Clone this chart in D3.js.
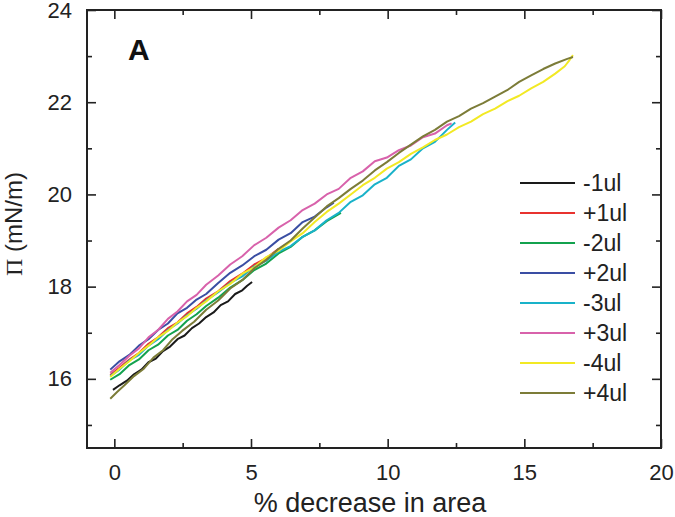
<!DOCTYPE html>
<html>
<head>
<meta charset="utf-8">
<script src="https://cdn.jsdelivr.net/npm/d3@7"></script>
<style>
  body { margin: 0; background: #fff; }
  svg { display: block; font-family: "Liberation Sans", Arial, sans-serif; }
</style>
</head>
<body>
<svg id="chart" width="675" height="517"></svg>
<script>
(function() {
    'use strict';

    // series names, in legend order
    var seriesNames = ["-1ul", "+1ul", "-2ul", "+2ul", "-3ul", "+3ul", "-4ul", "+4ul"];
    var seriesColors = ["#1a1a1a", "#e8332f", "#13a24e", "#3a4ea3", "#19b2c9", "#d862ab", "#f2e924", "#7c7c38"];

    // [% decrease in area, Pi (mN/m)]
    var minus1 = [[-0.05,15.76],[0.19,15.86],[0.46,15.96],[0.72,16.1],[0.99,16.2],[1.25,16.36],[1.52,16.44],[1.78,16.6],[2.04,16.7],[2.31,16.86],[2.57,16.94],[2.84,17.1],[3.1,17.2],[3.36,17.34],[3.63,17.44],[3.89,17.6],[4.16,17.68],[4.42,17.84],[4.68,17.92],[4.86,18.02],[5.04,18.1]];
    var plus1 = [[-0.15,16.08],[0.19,16.24],[0.55,16.42],[0.9,16.56],[1.25,16.76],[1.6,16.9],[1.96,17.1],[2.31,17.22],[2.66,17.42],[3.01,17.56],[3.36,17.74],[3.8,17.9],[4.24,18.12],[4.68,18.28],[5.12,18.48],[5.56,18.62],[6.01,18.82]];
    var minus2 = [[-0.15,15.98],[0.19,16.1],[0.55,16.3],[0.9,16.42],[1.25,16.62],[1.6,16.74],[1.96,16.94],[2.31,17.06],[2.66,17.26],[3.01,17.4],[3.36,17.58],[3.8,17.76],[4.24,17.98],[4.68,18.14],[5.12,18.36],[5.56,18.5],[6.01,18.72],[6.45,18.86],[6.89,19.08],[7.33,19.22],[7.77,19.42],[8.29,19.6]];
    var plus2 = [[-0.15,16.2],[0.19,16.38],[0.55,16.52],[0.9,16.72],[1.25,16.86],[1.6,17.06],[1.96,17.2],[2.31,17.42],[2.66,17.54],[3.01,17.72],[3.36,17.84],[3.8,18.08],[4.24,18.3],[4.68,18.46],[5.12,18.66],[5.56,18.8],[6.01,19.02],[6.45,19.16],[6.89,19.4],[7.33,19.52],[7.77,19.72],[8.03,19.82]];
    var minus3 = [[-0.15,16.06],[0.19,16.2],[0.55,16.4],[0.9,16.52],[1.25,16.72],[1.6,16.86],[1.96,17.06],[2.31,17.2],[2.66,17.38],[3.01,17.52],[3.36,17.7],[3.8,17.88],[4.24,18.08],[4.68,18.22],[5.12,18.44],[5.56,18.56],[6.01,18.76],[6.45,18.88],[6.89,19.08],[7.33,19.22],[7.77,19.44],[8.21,19.6],[8.65,19.84],[9.09,19.98],[9.53,20.22],[9.97,20.36],[10.41,20.62],[10.85,20.76],[11.29,21.0],[11.73,21.14],[12.17,21.4],[12.47,21.56]];
    var plus3 = [[-0.15,16.13],[0.19,16.3],[0.55,16.5],[0.9,16.66],[1.25,16.9],[1.6,17.06],[1.96,17.3],[2.31,17.46],[2.66,17.68],[3.01,17.82],[3.36,18.04],[3.8,18.24],[4.24,18.48],[4.68,18.66],[5.12,18.9],[5.56,19.06],[6.01,19.28],[6.45,19.44],[6.89,19.66],[7.33,19.8],[7.77,20.0],[8.21,20.12],[8.65,20.36],[9.09,20.5],[9.53,20.72],[9.97,20.8],[10.41,20.96],[10.85,21.06],[11.29,21.24],[11.73,21.32],[12.17,21.5],[12.34,21.54]];
    var minus4 = [[-0.15,16.04],[0.19,16.22],[0.55,16.38],[0.9,16.56],[1.25,16.72],[1.6,16.9],[1.96,17.04],[2.31,17.22],[2.66,17.36],[3.01,17.54],[3.36,17.68],[3.8,17.9],[4.24,18.06],[4.68,18.28],[5.12,18.42],[5.56,18.64],[6.01,18.78],[6.45,18.98],[6.89,19.16],[7.33,19.4],[7.77,19.62],[8.21,19.8],[8.65,20.0],[9.09,20.2],[9.53,20.36],[9.97,20.56],[10.41,20.7],[10.85,20.88],[11.29,21.02],[11.73,21.18],[12.17,21.3],[12.61,21.46],[13.05,21.58],[13.49,21.74],[13.93,21.86],[14.37,22.02],[14.81,22.14],[15.25,22.3],[15.69,22.44],[16.13,22.62],[16.48,22.78],[16.66,22.92],[16.78,23.02]];
    var plus4 = [[-0.15,15.57],[0.11,15.72],[0.37,15.86],[0.72,16.06],[1.08,16.22],[1.43,16.46],[1.78,16.62],[2.13,16.86],[2.48,17.04],[2.92,17.24],[3.36,17.5],[3.8,17.7],[4.24,17.96],[4.68,18.14],[5.12,18.4],[5.56,18.58],[6.01,18.82],[6.45,19.0],[6.89,19.26],[7.33,19.5],[7.77,19.74],[8.21,19.92],[8.65,20.12],[9.09,20.3],[9.53,20.52],[9.97,20.7],[10.41,20.9],[10.85,21.08],[11.29,21.26],[11.73,21.4],[12.17,21.58],[12.61,21.7],[13.05,21.86],[13.49,21.98],[13.93,22.12],[14.37,22.26],[14.81,22.44],[15.25,22.58],[15.69,22.72],[16.13,22.84],[16.57,22.94],[16.78,22.98]];

    var seriesValues = [minus1, plus1, minus2, plus2, minus3, plus3, minus4, plus4];

    var xMajorTicks = [0, 5, 10, 15, 20];
    var xMinorTicks = [2.5, 7.5, 12.5, 17.5];
    var yMajorTicks = [16, 18, 20, 22, 24];
    var yMinorTicks = [15, 17, 19, 21, 23];

    var margin = {top: 10, left: 87},
        width = 574,
        height = 438;

    var svg = d3.select("#chart");
    var g = svg.append("g")
        .attr("transform", "translate(" + margin.left + "," + margin.top + ")");

    var x = d3.scaleLinear().domain([-1, 20]).range([0, width]);
    var y = d3.scaleLinear().domain([14.5, 24]).range([height, 0]);

    var majorLen = 9, minorLen = 5;

    function styleAxis(sel) {
        sel.select(".domain").remove();
        sel.selectAll(".tick line").attr("stroke", "#222").attr("stroke-width", 1.6);
        sel.selectAll(".tick text")
            .attr("fill", "#222")
            .style("font-size", "22px");
    }

    // bottom + top
    g.append("g").attr("transform", "translate(0," + height + ")")
        .call(d3.axisBottom(x).tickValues(xMajorTicks).tickSize(-majorLen).tickPadding(16).tickFormat(d3.format("d")))
        .call(styleAxis);
    g.append("g").attr("transform", "translate(0," + height + ")")
        .call(d3.axisBottom(x).tickValues(xMinorTicks).tickSize(-minorLen).tickFormat(""))
        .call(styleAxis);
    g.append("g")
        .call(d3.axisTop(x).tickValues(xMajorTicks).tickSize(-majorLen).tickFormat(""))
        .call(styleAxis);
    g.append("g")
        .call(d3.axisTop(x).tickValues(xMinorTicks).tickSize(-minorLen).tickFormat(""))
        .call(styleAxis);

    // left + right
    g.append("g")
        .call(d3.axisLeft(y).tickValues(yMajorTicks).tickSize(-majorLen).tickPadding(15).tickFormat(d3.format("d")))
        .call(styleAxis);
    g.append("g")
        .call(d3.axisLeft(y).tickValues(yMinorTicks).tickSize(-minorLen).tickFormat(""))
        .call(styleAxis);
    g.append("g").attr("transform", "translate(" + width + ",0)")
        .call(d3.axisRight(y).tickValues(yMajorTicks).tickSize(-majorLen).tickFormat(""))
        .call(styleAxis);
    g.append("g").attr("transform", "translate(" + width + ",0)")
        .call(d3.axisRight(y).tickValues(yMinorTicks).tickSize(-minorLen).tickFormat(""))
        .call(styleAxis);

    // curves
    var line = d3.line()
        .x(function(d) { return x(d[0]); })
        .y(function(d) { return y(d[1]); });

    g.selectAll("path.curve")
        .data(seriesValues)
        .enter().append("path")
        .attr("class", "curve")
        .attr("fill", "none")
        .attr("stroke", function(d, i) { return seriesColors[i]; })
        .attr("stroke-width", 2)
        .attr("stroke-linejoin", "round")
        .attr("d", line);

    // frame
    g.append("rect")
        .attr("width", width)
        .attr("height", height)
        .attr("fill", "none")
        .attr("stroke", "#222")
        .attr("stroke-width", 2);

    // panel letter
    g.append("text")
        .attr("x", 128 - margin.left)
        .attr("y", 60 - margin.top)
        .attr("font-size", "30px")
        .attr("font-weight", "bold")
        .attr("fill", "#111")
        .text("A");

    // legend
    var legend = g.append("g")
        .attr("transform", "translate(" + (520 - margin.left) + "," + (183 - margin.top) + ")");
    var rows = legend.selectAll("g")
        .data(seriesNames)
        .enter().append("g")
        .attr("transform", function(d, i) {
            return "translate(0," + i * 30 + ")";
        });
    rows.append("line")
        .attr("x1", 0).attr("x2", 55)
        .attr("stroke", function(d, i) { return seriesColors[i]; })
        .attr("stroke-width", 2.2);
    rows.append("text")
        .attr("x", 63)
        .attr("dy", "0.36em")
        .attr("font-size", "23px")
        .attr("fill", "#222")
        .text(function(d) { return d; });

    // axis titles
    svg.append("text")
        .attr("x", margin.left + width / 2 - 4)
        .attr("y", 512)
        .attr("text-anchor", "middle")
        .attr("font-size", "27px")
        .attr("fill", "#222")
        .text("% decrease in area");

    var yTitle = svg.append("text")
        .attr("transform", "translate(22," + (margin.top + height / 2 - 5) + ") rotate(-90)")
        .attr("text-anchor", "middle")
        .attr("font-size", "24px")
        .attr("fill", "#222");
    yTitle.append("tspan")
        .attr("font-family", "'Liberation Serif', 'Times New Roman', serif")
        .text("\u03A0");
    yTitle.append("tspan").text(" (mN/m)");

})();
</script>
</body>
</html>
